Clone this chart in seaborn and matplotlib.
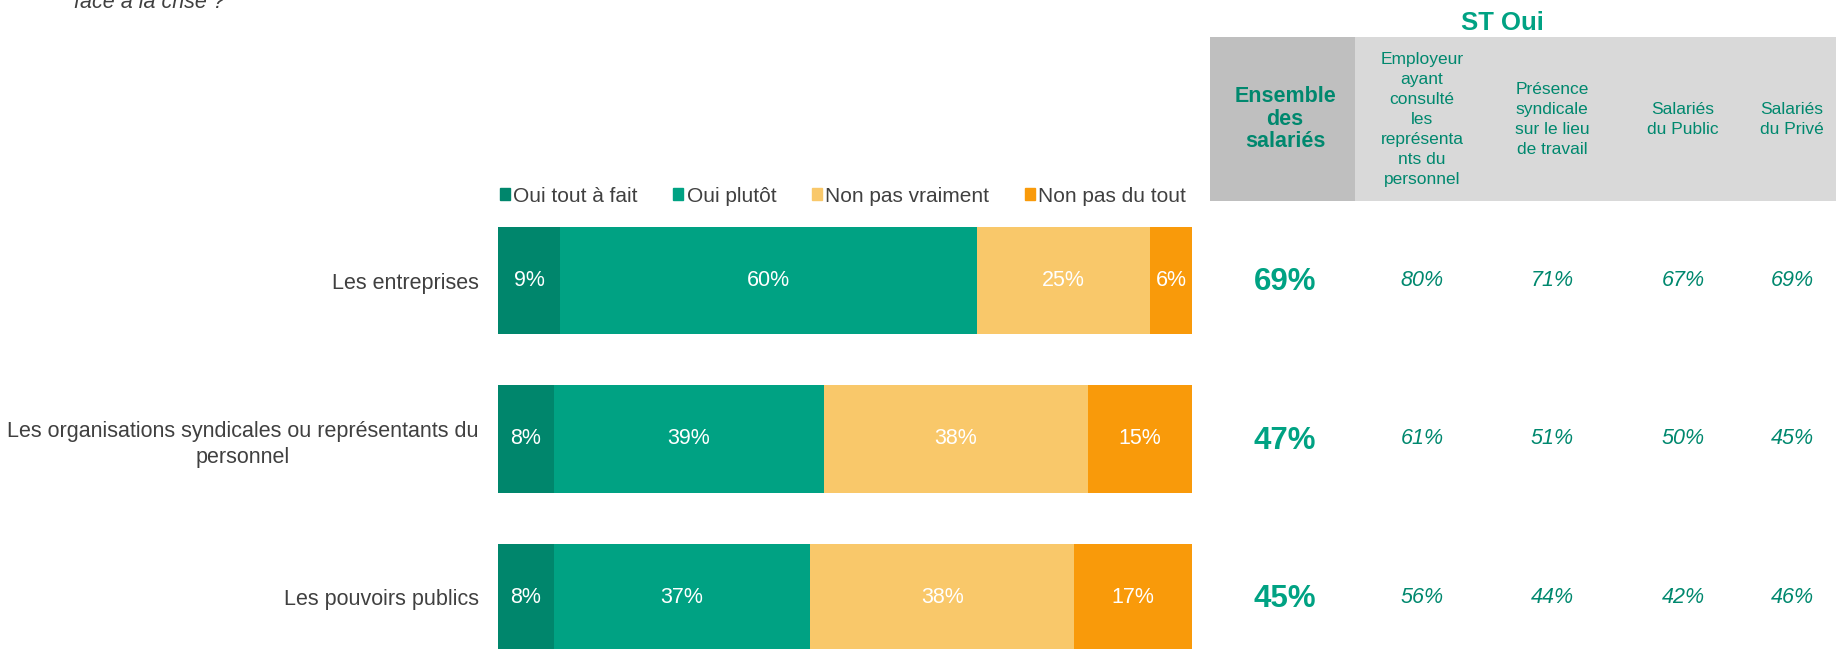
import matplotlib.pyplot as plt
import matplotlib.patches as mpatches
import seaborn as sns
import numpy as np

# data
categories = ["Les entreprises",
              "Les organisations syndicales ou représentants du\npersonnel",
              "Les pouvoirs publics"]
series = ["Oui tout à fait", "Oui plutôt", "Non pas vraiment", "Non pas du tout"]
oui_tout_a_fait = [9, 8, 8]
oui_plutot = [60, 39, 37]
non_pas_vraiment = [25, 38, 38]
non_pas_du_tout = [6, 15, 17]
colors = ["#00866C", "#00A283", "#F9C86A", "#F99A0A"]

st_oui_title = "ST Oui"
st_oui_headers = ["Ensemble\ndes\nsalariés",
                  "Employeur\nayant\nconsulté\nles\nreprésenta\nnts du\npersonnel",
                  "Présence\nsyndicale\nsur le lieu\nde travail",
                  "Salariés\ndu Public",
                  "Salariés\ndu Privé"]
st_oui_ensemble = [69, 47, 45]
st_oui_employeur = [80, 61, 56]
st_oui_presence = [71, 51, 44]
st_oui_public = [67, 50, 42]
st_oui_prive = [69, 45, 46]

question_tail = "face à la crise ?"

sns.set_theme(style="white")
plt.rcParams['font.family'] = ['Liberation Sans', 'DejaVu Sans']

W, H = 1836, 649
fig = plt.figure(figsize=(W / 100, H / 100), dpi=100)

# layout (pixels from top)
row0, step = 280.5, 158.5
ax_top = row0 - 0.5 * step
y_bottom = -0.5 + (H - ax_top) / step
head_top = 37
y_head = -0.5 - (ax_top - head_top) / step

ax = fig.add_axes([498 / W, 0, (1192 - 498) / W, (H - ax_top) / H])

vals = np.array([oui_tout_a_fait, oui_plutot, non_pas_vraiment, non_pas_du_tout]).T
cum = vals.cumsum(axis=1)

# stacked bars: draw cumulative totals from the longest down
for i in reversed(range(len(series))):
    sns.barplot(x=cum[:, i], y=categories, color=colors[i], orient="h",
                width=0.68, saturation=1, linewidth=0, label=series[i], ax=ax)

for j in range(len(categories)):
    for i in range(len(series)):
        ax.text(cum[j, i] - vals[j, i] / 2, j, f"{vals[j, i]}%", ha="center", va="center",
                color="white", fontsize=15.5)

ax.set_xlim(0, 100)
ax.set_ylim(y_bottom, -0.5)
ax.set_xlabel("")
ax.set_ylabel("")
ax.set_xticks([])
sns.despine(ax=ax, left=True, bottom=True)
ax.tick_params(axis="y", length=0, pad=14, labelsize=15.5, labelcolor="#404040")
for lab in ax.get_yticklabels():
    lab.set_multialignment("center")
    lab.set_linespacing(1.32)

handles = [mpatches.Patch(color=c) for c in colors]
ax.legend(handles, series, loc="center right", ncol=4, frameon=False,
          bbox_to_anchor=(1186 / W, 1 - 196 / H), bbox_transform=fig.transFigure,
          fontsize=15, handlelength=0.5, handleheight=0.5, handletextpad=0.15,
          columnspacing=1.7, borderpad=0, borderaxespad=0, labelcolor="#404040")

# ST Oui table
ax2 = fig.add_axes([1209 / W, 0, (W - 1209) / W, (H - head_top) / H])
ax2.set_xlim(0, W - 1209)
ax2.set_ylim(y_bottom, y_head)
ax2.axis("off")
ax2.add_patch(mpatches.Rectangle((1, y_head), 145, -0.5 - y_head, color="#BFBFBF", lw=0))
ax2.add_patch(mpatches.Rectangle((146, y_head), W - 1209 - 146, -0.5 - y_head, color="#D9D9D9", lw=0))

col_x = [76, 213, 343, 474, 583]
y_mid = (y_head - 0.5) / 2
for k, h in enumerate(st_oui_headers):
    if k == 0:
        ax2.text(col_x[k], y_mid, h, ha="center", va="center", fontsize=15.5,
                 fontweight="bold", color="#00886E", linespacing=1.1)
    else:
        ax2.text(col_x[k], y_mid, h, ha="center", va="center", fontsize=12.5,
                 color="#00886E", linespacing=1.42)

cols = [st_oui_ensemble, st_oui_employeur, st_oui_presence, st_oui_public, st_oui_prive]
for k, col in enumerate(cols):
    for j, v in enumerate(col):
        if k == 0:
            ax2.text(col_x[k], j + 0.01, f"{v}%", ha="center", va="center", fontsize=22.5,
                     fontweight="bold", color="#00A283")
        else:
            ax2.text(col_x[k], j, f"{v}%", ha="center", va="center", fontsize=15.5,
                     style="italic", color="#00886E")

fig.text(1502 / W, 1 - 23 / H, st_oui_title, ha="center", va="center", fontsize=18.5,
         fontweight="bold", color="#00A283")
fig.text(74 / W, 1 - 8 / H, question_tail, ha="left", va="baseline", fontsize=15.5,
         style="italic", color="#404040")

fig.savefig("out.png", dpi=100)
